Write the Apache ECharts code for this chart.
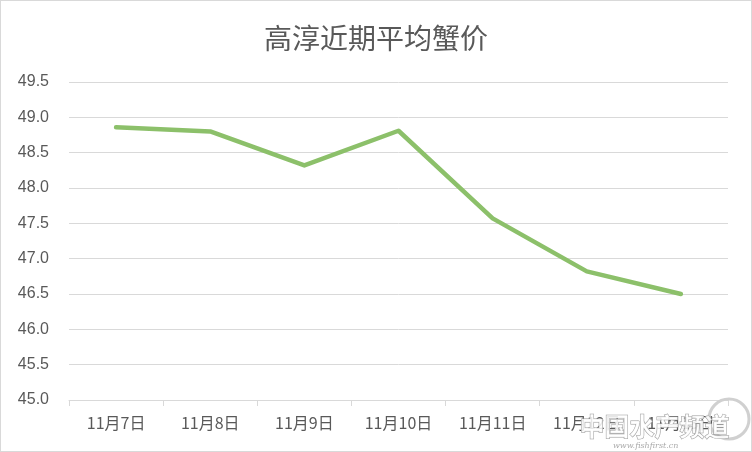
<!DOCTYPE html>
<html>
<head>
<meta charset="utf-8">
<script src="https://cdn.jsdelivr.net/npm/echarts@6/dist/echarts.min.js"></script>
<style>
html,body{margin:0;padding:0;background:#fff;}
#c{width:752px;height:452px;box-sizing:border-box;border:1px solid #d9d9d9;}
</style>
</head>
<body>
<div id="c"></div>
<script>
var titleText = '高淳近期平均蟹价';
var categories = ['11月7日','11月8日','11月9日','11月10日','11月11日','11月12日','11月13日'];
var prices = [48.86, 48.80, 48.32, 48.81, 47.57, 46.82, 46.50];
var yMin = 45.0, yMax = 49.5, yStep = 0.5;

var chart = echarts.init(document.getElementById('c'), null, {renderer:'canvas'});
chart.setOption({
  animation:false,
  backgroundColor:'#ffffff',
  title:{
    text:titleText, left:'center', top:18,
    textStyle:{fontFamily:'Noto Sans CJK SC', fontWeight:'normal', fontSize:28, color:'#595959'}
  },
  grid:{left:68, right:23, top:81, bottom:51, containLabel:false},
  xAxis:{
    type:'category', data:categories, boundaryGap:true,
    axisLine:{show:true, lineStyle:{color:'#d9d9d9', width:1}},
    axisTick:{show:true, alignWithLabel:false, length:6, lineStyle:{color:'#d9d9d9'}},
    axisLabel:{color:'#595959', fontSize:16, margin:15, fontFamily:'Noto Sans CJK SC', interval:0},
    splitLine:{show:false}
  },
  yAxis:{
    type:'value', min:yMin, max:yMax, interval:yStep,
    axisLine:{show:false}, axisTick:{show:false},
    axisLabel:{color:'#595959', fontSize:16, margin:20, fontFamily:'Liberation Sans',
      formatter:function(v){return v.toFixed(1);}},
    splitLine:{lineStyle:{color:'#d9d9d9', width:1}}
  },
  series:[{
    type:'line', data:prices, symbol:'none', smooth:false,
    lineStyle:{color:'#8cc06a', width:4.5, cap:'round', join:'round'}
  }],
  graphic:[
    {type:'circle', shape:{cx:728, cy:418, r:20}, style:{fill:'none', stroke:'#d0d0d0', lineWidth:3}, z:100},
    {type:'text', left:578, top:412, z:101,
      style:{text:'中国水产频道', font:'bold 25px "Noto Sans CJK SC"', fill:'rgba(255,255,255,0.85)', stroke:'#9a9a9a', lineWidth:1}},
    {type:'text', left:612, top:441, z:101,
      style:{text:'www.fishfirst.cn', font:'italic 8px "DejaVu Serif"', fill:'#aaaaaa'}}
  ]
});
</script>
</body>
</html>
